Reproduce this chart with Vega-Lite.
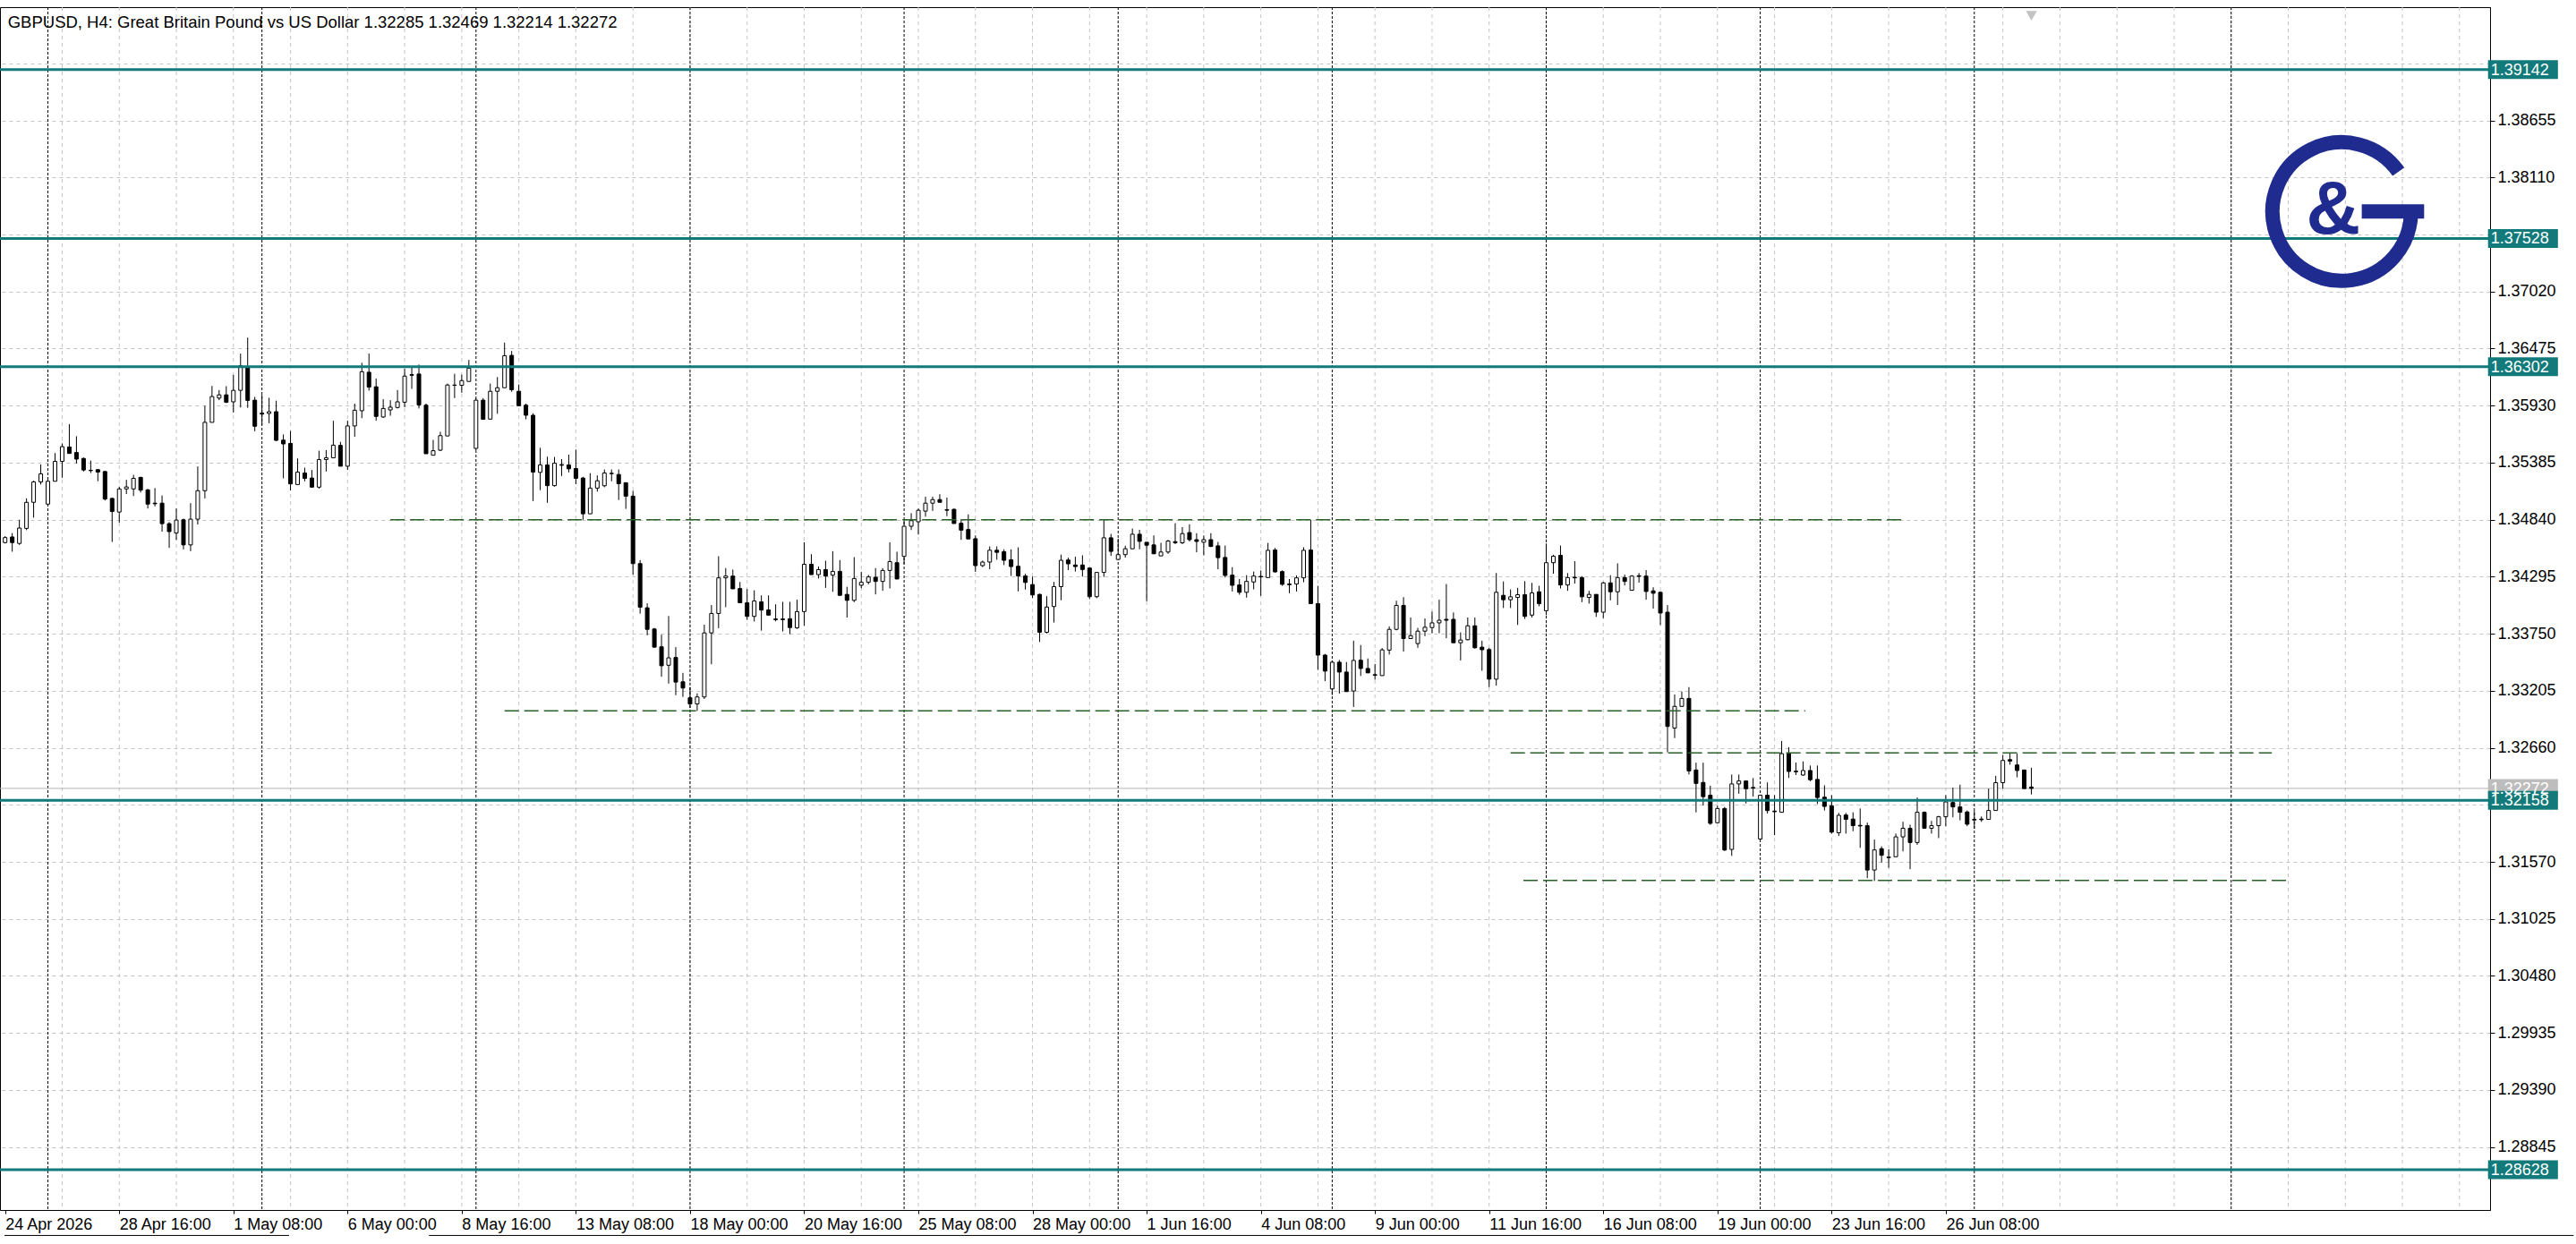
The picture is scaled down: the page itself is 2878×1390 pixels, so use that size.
{
"$schema": "https://vega.github.io/schema/vega-lite/v6.json",
"width": 2782, "height": 1344,
"autosize": "none",
"padding": {"left": 0, "top": 8, "right": 96, "bottom": 38},
"background": "white",
"config": {"view": {"stroke": "#000000", "strokeWidth": 1}, "font": "Liberation Sans"},
"resolve": {"axis": {"x": "independent", "y": "independent"}},
"datasets": {
"k": [
{"i":0,"o":1.34621,"h":1.34683,"l":1.34613,"c":1.34669},
{"i":1,"o":1.34675,"h":1.34712,"l":1.34534,"c":1.34621},
{"i":2,"o":1.34613,"h":1.34839,"l":1.34599,"c":1.34760},
{"i":3,"o":1.34757,"h":1.35043,"l":1.34740,"c":1.35006},
{"i":4,"o":1.35006,"h":1.35213,"l":1.34859,"c":1.35201},
{"i":5,"o":1.35201,"h":1.35368,"l":1.35176,"c":1.35278},
{"i":6,"o":1.34989,"h":1.35221,"l":1.34981,"c":1.35207},
{"i":7,"o":1.35207,"h":1.35476,"l":1.35207,"c":1.35397},
{"i":8,"o":1.35397,"h":1.35569,"l":1.35241,"c":1.35538},
{"i":9,"o":1.35535,"h":1.35753,"l":1.35473,"c":1.35473},
{"i":10,"o":1.35482,"h":1.35637,"l":1.35377,"c":1.35419},
{"i":11,"o":1.35425,"h":1.35434,"l":1.35300,"c":1.35315},
{"i":12,"o":1.35312,"h":1.35405,"l":1.35286,"c":1.35309},
{"i":13,"o":1.35318,"h":1.35320,"l":1.35207,"c":1.35295},
{"i":14,"o":1.35300,"h":1.35306,"l":1.35023,"c":1.35037},
{"i":15,"o":1.35043,"h":1.35051,"l":1.34627,"c":1.34918},
{"i":16,"o":1.34913,"h":1.35156,"l":1.34811,"c":1.35134},
{"i":17,"o":1.35134,"h":1.35221,"l":1.35085,"c":1.35153},
{"i":18,"o":1.35134,"h":1.35269,"l":1.35066,"c":1.35235},
{"i":19,"o":1.35244,"h":1.35250,"l":1.35100,"c":1.35122},
{"i":20,"o":1.35125,"h":1.35134,"l":1.34947,"c":1.34989},
{"i":21,"o":1.34998,"h":1.35142,"l":1.34967,"c":1.34992},
{"i":22,"o":1.34998,"h":1.35071,"l":1.34726,"c":1.34802},
{"i":23,"o":1.34802,"h":1.34817,"l":1.34570,"c":1.34726},
{"i":24,"o":1.34712,"h":1.34947,"l":1.34647,"c":1.34836},
{"i":25,"o":1.34839,"h":1.34850,"l":1.34556,"c":1.34599},
{"i":26,"o":1.34599,"h":1.34998,"l":1.34539,"c":1.34845},
{"i":27,"o":1.34845,"h":1.35349,"l":1.34794,"c":1.35117},
{"i":28,"o":1.35117,"h":1.35929,"l":1.35043,"c":1.35770},
{"i":29,"o":1.35770,"h":1.36118,"l":1.35770,"c":1.36017},
{"i":30,"o":1.36002,"h":1.36079,"l":1.35982,"c":1.36033},
{"i":31,"o":1.36033,"h":1.36116,"l":1.35954,"c":1.35963},
{"i":32,"o":1.35966,"h":1.36223,"l":1.35864,"c":1.36076},
{"i":33,"o":1.36076,"h":1.36427,"l":1.35912,"c":1.36311},
{"i":34,"o":1.36291,"h":1.36580,"l":1.35909,"c":1.35980},
{"i":35,"o":1.35982,"h":1.36014,"l":1.35685,"c":1.35733},
{"i":36,"o":1.35858,"h":1.36033,"l":1.35745,"c":1.35849},
{"i":37,"o":1.35855,"h":1.36005,"l":1.35762,"c":1.35872},
{"i":38,"o":1.35872,"h":1.35977,"l":1.35592,"c":1.35598},
{"i":39,"o":1.35600,"h":1.35654,"l":1.35235,"c":1.35564},
{"i":40,"o":1.35569,"h":1.35688,"l":1.35119,"c":1.35182},
{"i":41,"o":1.35176,"h":1.35425,"l":1.35176,"c":1.35295},
{"i":42,"o":1.35286,"h":1.35337,"l":1.35207,"c":1.35235},
{"i":43,"o":1.35238,"h":1.35315,"l":1.35145,"c":1.35151},
{"i":44,"o":1.35151,"h":1.35499,"l":1.35136,"c":1.35414},
{"i":45,"o":1.35414,"h":1.35505,"l":1.35300,"c":1.35431},
{"i":46,"o":1.35431,"h":1.35785,"l":1.35431,"c":1.35552},
{"i":47,"o":1.35550,"h":1.35584,"l":1.35351,"c":1.35351},
{"i":48,"o":1.35351,"h":1.35787,"l":1.35315,"c":1.35736},
{"i":49,"o":1.35736,"h":1.35949,"l":1.35632,"c":1.35886},
{"i":50,"o":1.35881,"h":1.36339,"l":1.35810,"c":1.36254},
{"i":51,"o":1.36249,"h":1.36427,"l":1.36073,"c":1.36107},
{"i":52,"o":1.36110,"h":1.36189,"l":1.35785,"c":1.35827},
{"i":53,"o":1.35821,"h":1.35991,"l":1.35813,"c":1.35903},
{"i":54,"o":1.35889,"h":1.35982,"l":1.35833,"c":1.35915},
{"i":55,"o":1.35912,"h":1.36079,"l":1.35903,"c":1.35966},
{"i":56,"o":1.35963,"h":1.36283,"l":1.35915,"c":1.36212},
{"i":57,"o":1.36226,"h":1.36291,"l":1.36090,"c":1.36220},
{"i":58,"o":1.36232,"h":1.36322,"l":1.35903,"c":1.35937},
{"i":59,"o":1.35934,"h":1.35949,"l":1.35470,"c":1.35470},
{"i":60,"o":1.35456,"h":1.35603,"l":1.35456,"c":1.35499},
{"i":61,"o":1.35504,"h":1.35680,"l":1.35496,"c":1.35643},
{"i":62,"o":1.35640,"h":1.36141,"l":1.35640,"c":1.36127},
{"i":63,"o":1.36127,"h":1.36234,"l":1.36002,"c":1.36124},
{"i":64,"o":1.36124,"h":1.36226,"l":1.36053,"c":1.36169},
{"i":65,"o":1.36161,"h":1.36367,"l":1.36161,"c":1.36288},
{"i":66,"o":1.35521,"h":1.36000,"l":1.35504,"c":1.35982},
{"i":67,"o":1.35982,"h":1.36002,"l":1.35799,"c":1.35799},
{"i":68,"o":1.35801,"h":1.36141,"l":1.35801,"c":1.36067},
{"i":69,"o":1.36067,"h":1.36203,"l":1.35852,"c":1.36101},
{"i":70,"o":1.36101,"h":1.36532,"l":1.36101,"c":1.36407},
{"i":71,"o":1.36410,"h":1.36452,"l":1.36062,"c":1.36082},
{"i":72,"o":1.36067,"h":1.36132,"l":1.35929,"c":1.35929},
{"i":73,"o":1.35934,"h":1.35949,"l":1.35799,"c":1.35838},
{"i":74,"o":1.35838,"h":1.35858,"l":1.35018,"c":1.35295},
{"i":75,"o":1.35292,"h":1.35527,"l":1.35122,"c":1.35363},
{"i":76,"o":1.35363,"h":1.35442,"l":1.35001,"c":1.35165},
{"i":77,"o":1.35165,"h":1.35439,"l":1.35156,"c":1.35380},
{"i":78,"o":1.35366,"h":1.35419,"l":1.35258,"c":1.35360},
{"i":79,"o":1.35363,"h":1.35462,"l":1.35292,"c":1.35326},
{"i":80,"o":1.35329,"h":1.35510,"l":1.35179,"c":1.35235},
{"i":81,"o":1.35238,"h":1.35249,"l":1.34839,"c":1.34896},
{"i":82,"o":1.34896,"h":1.35284,"l":1.34896,"c":1.35142},
{"i":83,"o":1.35142,"h":1.35263,"l":1.35108,"c":1.35212},
{"i":84,"o":1.35164,"h":1.35320,"l":1.35150,"c":1.35286},
{"i":85,"o":1.35283,"h":1.35320,"l":1.35207,"c":1.35280},
{"i":86,"o":1.35272,"h":1.35320,"l":1.35028,"c":1.35184},
{"i":87,"o":1.35193,"h":1.35198,"l":1.34943,"c":1.35065},
{"i":88,"o":1.35065,"h":1.35116,"l":1.34315,"c":1.34420},
{"i":89,"o":1.34420,"h":1.34454,"l":1.33942,"c":1.34004},
{"i":90,"o":1.33998,"h":1.34041,"l":1.33735,"c":1.33792},
{"i":91,"o":1.33795,"h":1.33806,"l":1.33616,"c":1.33622},
{"i":92,"o":1.33625,"h":1.33741,"l":1.33339,"c":1.33444},
{"i":93,"o":1.33449,"h":1.33919,"l":1.33274,"c":1.33520},
{"i":94,"o":1.33523,"h":1.33622,"l":1.33163,"c":1.33288},
{"i":95,"o":1.33291,"h":1.33376,"l":1.33146,"c":1.33231},
{"i":96,"o":1.33138,"h":1.33240,"l":1.33042,"c":1.33079},
{"i":97,"o":1.33079,"h":1.33180,"l":1.33013,"c":1.33146},
{"i":98,"o":1.33146,"h":1.33837,"l":1.33127,"c":1.33758},
{"i":99,"o":1.33758,"h":1.34024,"l":1.33458,"c":1.33944},
{"i":100,"o":1.33944,"h":1.34491,"l":1.33803,"c":1.34284},
{"i":101,"o":1.34284,"h":1.34377,"l":1.34004,"c":1.34301},
{"i":102,"o":1.34301,"h":1.34363,"l":1.34179,"c":1.34179},
{"i":103,"o":1.34182,"h":1.34245,"l":1.34046,"c":1.34046},
{"i":104,"o":1.34046,"h":1.34177,"l":1.33882,"c":1.33916},
{"i":105,"o":1.33916,"h":1.34165,"l":1.33868,"c":1.34063},
{"i":106,"o":1.34055,"h":1.34117,"l":1.33780,"c":1.33976},
{"i":107,"o":1.33978,"h":1.34117,"l":1.33928,"c":1.33928},
{"i":108,"o":1.33891,"h":1.34032,"l":1.33868,"c":1.33885},
{"i":109,"o":1.33891,"h":1.34055,"l":1.33772,"c":1.33885},
{"i":110,"o":1.33894,"h":1.34055,"l":1.33746,"c":1.33809},
{"i":111,"o":1.33806,"h":1.34075,"l":1.33797,"c":1.33962},
{"i":112,"o":1.33962,"h":1.34624,"l":1.33826,"c":1.34414},
{"i":113,"o":1.34414,"h":1.34511,"l":1.34315,"c":1.34315},
{"i":114,"o":1.34315,"h":1.34392,"l":1.34278,"c":1.34363},
{"i":115,"o":1.34363,"h":1.34448,"l":1.34188,"c":1.34301},
{"i":116,"o":1.34310,"h":1.34539,"l":1.34151,"c":1.34346},
{"i":117,"o":1.34346,"h":1.34454,"l":1.34112,"c":1.34117},
{"i":118,"o":1.34126,"h":1.34199,"l":1.33905,"c":1.34069},
{"i":119,"o":1.34069,"h":1.34482,"l":1.34052,"c":1.34278},
{"i":120,"o":1.34213,"h":1.34341,"l":1.34185,"c":1.34242},
{"i":121,"o":1.34242,"h":1.34312,"l":1.34222,"c":1.34293},
{"i":122,"o":1.34290,"h":1.34377,"l":1.34126,"c":1.34250},
{"i":123,"o":1.34250,"h":1.34377,"l":1.34160,"c":1.34355},
{"i":124,"o":1.34355,"h":1.34624,"l":1.34183,"c":1.34440},
{"i":125,"o":1.34429,"h":1.34534,"l":1.34273,"c":1.34273},
{"i":126,"o":1.34489,"h":1.34845,"l":1.34415,"c":1.34777},
{"i":127,"o":1.34777,"h":1.34902,"l":1.34741,"c":1.34831},
{"i":128,"o":1.34820,"h":1.34947,"l":1.34698,"c":1.34930},
{"i":129,"o":1.34922,"h":1.35060,"l":1.34868,"c":1.34998},
{"i":130,"o":1.34998,"h":1.35060,"l":1.34924,"c":1.35032},
{"i":131,"o":1.35032,"h":1.35083,"l":1.35006,"c":1.35006},
{"i":132,"o":1.34936,"h":1.35052,"l":1.34873,"c":1.34930},
{"i":133,"o":1.34939,"h":1.34947,"l":1.34803,"c":1.34803},
{"i":134,"o":1.34806,"h":1.34845,"l":1.34647,"c":1.34740},
{"i":135,"o":1.34746,"h":1.34890,"l":1.34656,"c":1.34656},
{"i":136,"o":1.34658,"h":1.34690,"l":1.34341,"c":1.34401},
{"i":137,"o":1.34401,"h":1.34449,"l":1.34387,"c":1.34435},
{"i":138,"o":1.34435,"h":1.34585,"l":1.34367,"c":1.34548},
{"i":139,"o":1.34548,"h":1.34585,"l":1.34457,"c":1.34528},
{"i":140,"o":1.34534,"h":1.34557,"l":1.34406,"c":1.34452},
{"i":141,"o":1.34457,"h":1.34557,"l":1.34302,"c":1.34392},
{"i":142,"o":1.34395,"h":1.34576,"l":1.34155,"c":1.34302},
{"i":143,"o":1.34302,"h":1.34322,"l":1.34172,"c":1.34240},
{"i":144,"o":1.34220,"h":1.34296,"l":1.34090,"c":1.34121},
{"i":145,"o":1.34126,"h":1.34132,"l":1.33671,"c":1.33764},
{"i":146,"o":1.33764,"h":1.34109,"l":1.33753,"c":1.34005},
{"i":147,"o":1.34010,"h":1.34245,"l":1.33857,"c":1.34200},
{"i":148,"o":1.34200,"h":1.34506,"l":1.34070,"c":1.34452},
{"i":149,"o":1.34455,"h":1.34477,"l":1.34358,"c":1.34418},
{"i":150,"o":1.34407,"h":1.34486,"l":1.34344,"c":1.34392},
{"i":151,"o":1.34407,"h":1.34500,"l":1.34296,"c":1.34364},
{"i":152,"o":1.34378,"h":1.34378,"l":1.34081,"c":1.34104},
{"i":153,"o":1.34104,"h":1.34336,"l":1.34090,"c":1.34336},
{"i":154,"o":1.34336,"h":1.34845,"l":1.34293,"c":1.34667},
{"i":155,"o":1.34667,"h":1.34704,"l":1.34494,"c":1.34537},
{"i":156,"o":1.34460,"h":1.34658,"l":1.34460,"c":1.34506},
{"i":157,"o":1.34506,"h":1.34591,"l":1.34477,"c":1.34562},
{"i":158,"o":1.34562,"h":1.34755,"l":1.34562,"c":1.34701},
{"i":159,"o":1.34701,"h":1.34743,"l":1.34557,"c":1.34633},
{"i":160,"o":1.34624,"h":1.34624,"l":1.34061,"c":1.34596},
{"i":161,"o":1.34599,"h":1.34690,"l":1.34514,"c":1.34514},
{"i":162,"o":1.34494,"h":1.34619,"l":1.34494,"c":1.34531},
{"i":163,"o":1.34531,"h":1.34647,"l":1.34514,"c":1.34636},
{"i":164,"o":1.34630,"h":1.34806,"l":1.34607,"c":1.34619},
{"i":165,"o":1.34619,"h":1.34769,"l":1.34607,"c":1.34707},
{"i":166,"o":1.34717,"h":1.34796,"l":1.34632,"c":1.34649},
{"i":167,"o":1.34649,"h":1.34711,"l":1.34528,"c":1.34632},
{"i":168,"o":1.34624,"h":1.34689,"l":1.34499,"c":1.34649},
{"i":169,"o":1.34649,"h":1.34711,"l":1.34579,"c":1.34584},
{"i":170,"o":1.34590,"h":1.34627,"l":1.34366,"c":1.34477},
{"i":171,"o":1.34479,"h":1.34593,"l":1.34287,"c":1.34307},
{"i":172,"o":1.34310,"h":1.34386,"l":1.34154,"c":1.34213},
{"i":173,"o":1.34216,"h":1.34273,"l":1.34123,"c":1.34146},
{"i":174,"o":1.34146,"h":1.34310,"l":1.34095,"c":1.34250},
{"i":175,"o":1.34245,"h":1.34344,"l":1.34174,"c":1.34301},
{"i":176,"o":1.34298,"h":1.34355,"l":1.34112,"c":1.34293},
{"i":177,"o":1.34287,"h":1.34618,"l":1.34287,"c":1.34547},
{"i":178,"o":1.34550,"h":1.34570,"l":1.34335,"c":1.34341},
{"i":179,"o":1.34344,"h":1.34355,"l":1.34208,"c":1.34222},
{"i":180,"o":1.34225,"h":1.34273,"l":1.34137,"c":1.34219},
{"i":181,"o":1.34225,"h":1.34307,"l":1.34154,"c":1.34284},
{"i":182,"o":1.34284,"h":1.34576,"l":1.34242,"c":1.34547},
{"i":183,"o":1.34550,"h":1.34839,"l":1.34038,"c":1.34038},
{"i":184,"o":1.34038,"h":1.34208,"l":1.33404,"c":1.33546},
{"i":185,"o":1.33546,"h":1.33557,"l":1.33297,"c":1.33393},
{"i":186,"o":1.33223,"h":1.33495,"l":1.33164,"c":1.33478},
{"i":187,"o":1.33478,"h":1.33500,"l":1.33178,"c":1.33384},
{"i":188,"o":1.33384,"h":1.33480,"l":1.33197,"c":1.33197},
{"i":189,"o":1.33203,"h":1.33684,"l":1.33050,"c":1.33495},
{"i":190,"o":1.33497,"h":1.33642,"l":1.33347,"c":1.33418},
{"i":191,"o":1.33418,"h":1.33514,"l":1.33376,"c":1.33376},
{"i":192,"o":1.33359,"h":1.33461,"l":1.33311,"c":1.33353},
{"i":193,"o":1.33350,"h":1.33613,"l":1.33350,"c":1.33596},
{"i":194,"o":1.33594,"h":1.33820,"l":1.33551,"c":1.33792},
{"i":195,"o":1.33792,"h":1.34066,"l":1.33783,"c":1.34021},
{"i":196,"o":1.34021,"h":1.34100,"l":1.33580,"c":1.33704},
{"i":197,"o":1.33704,"h":1.33905,"l":1.33704,"c":1.33732},
{"i":198,"o":1.33656,"h":1.33806,"l":1.33616,"c":1.33775},
{"i":199,"o":1.33775,"h":1.33896,"l":1.33727,"c":1.33812},
{"i":200,"o":1.33809,"h":1.33962,"l":1.33755,"c":1.33854},
{"i":201,"o":1.33854,"h":1.34075,"l":1.33755,"c":1.33879},
{"i":202,"o":1.33888,"h":1.34225,"l":1.33707,"c":1.33879},
{"i":203,"o":1.33888,"h":1.33953,"l":1.33664,"c":1.33664},
{"i":204,"o":1.33664,"h":1.33763,"l":1.33495,"c":1.33690},
{"i":205,"o":1.33693,"h":1.33905,"l":1.33687,"c":1.33826},
{"i":206,"o":1.33826,"h":1.33905,"l":1.33608,"c":1.33616},
{"i":207,"o":1.33622,"h":1.33684,"l":1.33396,"c":1.33597},
{"i":208,"o":1.33599,"h":1.33616,"l":1.33240,"c":1.33316},
{"i":209,"o":1.33316,"h":1.34330,"l":1.33254,"c":1.34146},
{"i":210,"o":1.34117,"h":1.34250,"l":1.33996,"c":1.34075},
{"i":211,"o":1.34075,"h":1.34174,"l":1.33996,"c":1.34103},
{"i":212,"o":1.34097,"h":1.34188,"l":1.33834,"c":1.34123},
{"i":213,"o":1.34123,"h":1.34253,"l":1.33891,"c":1.33916},
{"i":214,"o":1.33928,"h":1.34236,"l":1.33905,"c":1.34140},
{"i":215,"o":1.34151,"h":1.34208,"l":1.34013,"c":1.34038},
{"i":216,"o":1.33970,"h":1.34613,"l":1.33928,"c":1.34429},
{"i":217,"o":1.34429,"h":1.34505,"l":1.34324,"c":1.34491},
{"i":218,"o":1.34499,"h":1.34593,"l":1.34182,"c":1.34216},
{"i":219,"o":1.34216,"h":1.34330,"l":1.34160,"c":1.34287},
{"i":220,"o":1.34290,"h":1.34443,"l":1.34230,"c":1.34284},
{"i":221,"o":1.34287,"h":1.34301,"l":1.34052,"c":1.34103},
{"i":222,"o":1.34097,"h":1.34160,"l":1.34038,"c":1.34126},
{"i":223,"o":1.34126,"h":1.34126,"l":1.33911,"c":1.33956},
{"i":224,"o":1.33956,"h":1.34245,"l":1.33899,"c":1.34236},
{"i":225,"o":1.34236,"h":1.34310,"l":1.34069,"c":1.34151},
{"i":226,"o":1.34151,"h":1.34423,"l":1.34024,"c":1.34287},
{"i":227,"o":1.34287,"h":1.34315,"l":1.34211,"c":1.34250},
{"i":228,"o":1.34165,"h":1.34310,"l":1.34165,"c":1.34301},
{"i":229,"o":1.34304,"h":1.34330,"l":1.34239,"c":1.34298},
{"i":230,"o":1.34301,"h":1.34358,"l":1.34075,"c":1.34154},
{"i":231,"o":1.34160,"h":1.34194,"l":1.33990,"c":1.34137},
{"i":232,"o":1.34146,"h":1.34154,"l":1.33834,"c":1.33948},
{"i":233,"o":1.33956,"h":1.34024,"l":1.32617,"c":1.32864},
{"i":234,"o":1.32849,"h":1.33169,"l":1.32753,"c":1.33056},
{"i":235,"o":1.33056,"h":1.33198,"l":1.33056,"c":1.33132},
{"i":236,"o":1.33132,"h":1.33240,"l":1.32405,"c":1.32439},
{"i":237,"o":1.32448,"h":1.32518,"l":1.32043,"c":1.32320},
{"i":238,"o":1.32329,"h":1.32518,"l":1.32108,"c":1.32193},
{"i":239,"o":1.32207,"h":1.32298,"l":1.31924,"c":1.31938},
{"i":240,"o":1.31944,"h":1.32108,"l":1.31944,"c":1.32080},
{"i":241,"o":1.32080,"h":1.32094,"l":1.31675,"c":1.31683},
{"i":242,"o":1.31689,"h":1.32405,"l":1.31627,"c":1.32315},
{"i":243,"o":1.32315,"h":1.32405,"l":1.32221,"c":1.32343},
{"i":244,"o":1.32343,"h":1.32343,"l":1.32128,"c":1.32269},
{"i":245,"o":1.32281,"h":1.32371,"l":1.32193,"c":1.32275},
{"i":246,"o":1.31788,"h":1.32207,"l":1.31788,"c":1.32207},
{"i":247,"o":1.32207,"h":1.32329,"l":1.32032,"c":1.32060},
{"i":248,"o":1.32055,"h":1.32208,"l":1.31826,"c":1.32049},
{"i":249,"o":1.32044,"h":1.32726,"l":1.32044,"c":1.32604},
{"i":250,"o":1.32604,"h":1.32666,"l":1.32372,"c":1.32434},
{"i":251,"o":1.32437,"h":1.32519,"l":1.32400,"c":1.32431},
{"i":252,"o":1.32400,"h":1.32530,"l":1.32392,"c":1.32443},
{"i":253,"o":1.32443,"h":1.32491,"l":1.32341,"c":1.32355},
{"i":254,"o":1.32358,"h":1.32491,"l":1.32123,"c":1.32185},
{"i":255,"o":1.32188,"h":1.32301,"l":1.32061,"c":1.32100},
{"i":256,"o":1.32106,"h":1.32208,"l":1.31840,"c":1.31854},
{"i":257,"o":1.31848,"h":1.32038,"l":1.31817,"c":1.32015},
{"i":258,"o":1.32018,"h":1.32038,"l":1.31840,"c":1.31976},
{"i":259,"o":1.31979,"h":1.32044,"l":1.31863,"c":1.31916},
{"i":260,"o":1.31919,"h":1.32080,"l":1.31704,"c":1.31913},
{"i":261,"o":1.31916,"h":1.31945,"l":1.31415,"c":1.31492},
{"i":262,"o":1.31492,"h":1.31783,"l":1.31387,"c":1.31684},
{"i":263,"o":1.31696,"h":1.31718,"l":1.31563,"c":1.31633},
{"i":264,"o":1.31616,"h":1.31690,"l":1.31514,"c":1.31611},
{"i":265,"o":1.31619,"h":1.31840,"l":1.31619,"c":1.31809},
{"i":266,"o":1.31809,"h":1.31953,"l":1.31670,"c":1.31891},
{"i":267,"o":1.31891,"h":1.31925,"l":1.31500,"c":1.31755},
{"i":268,"o":1.31755,"h":1.32185,"l":1.31732,"c":1.32044},
{"i":269,"o":1.32044,"h":1.32052,"l":1.31891,"c":1.31891},
{"i":270,"o":1.31891,"h":1.31962,"l":1.31840,"c":1.31916},
{"i":271,"o":1.31916,"h":1.32010,"l":1.31797,"c":1.32001},
{"i":272,"o":1.32001,"h":1.32208,"l":1.31911,"c":1.32143},
{"i":273,"o":1.32137,"h":1.32279,"l":1.31996,"c":1.32095},
{"i":274,"o":1.32095,"h":1.32307,"l":1.31967,"c":1.32044},
{"i":275,"o":1.32047,"h":1.32061,"l":1.31911,"c":1.31930},
{"i":276,"o":1.31976,"h":1.32058,"l":1.31888,"c":1.31970},
{"i":277,"o":1.31979,"h":1.32004,"l":1.31953,"c":1.31973},
{"i":278,"o":1.31976,"h":1.32270,"l":1.31976,"c":1.32061},
{"i":279,"o":1.32061,"h":1.32392,"l":1.32061,"c":1.32327},
{"i":280,"o":1.32327,"h":1.32590,"l":1.32270,"c":1.32539},
{"i":281,"o":1.32547,"h":1.32612,"l":1.32499,"c":1.32533},
{"i":282,"o":1.32496,"h":1.32604,"l":1.32378,"c":1.32443},
{"i":283,"o":1.32448,"h":1.32448,"l":1.32270,"c":1.32270},
{"i":284,"o":1.32285,"h":1.32469,"l":1.32214,"c":1.32272}
],
"vg": [{"g":8},{"g":16},{"g":24},{"g":32},{"g":40},{"g":48},{"g":56},{"g":64},{"g":72},{"g":80},{"g":88},{"g":96},{"g":104},{"g":112},{"g":120},{"g":128},{"g":136},{"g":144},{"g":152},{"g":160},{"g":168},{"g":176},{"g":184},{"g":192},{"g":200},{"g":208},{"g":216},{"g":224},{"g":232},{"g":240},{"g":248},{"g":256},{"g":264},{"g":272},{"g":280},{"g":288},{"g":296},{"g":304},{"g":312},{"g":320},{"g":328},{"g":336},{"g":344}],
"sep": [{"g":6},{"g":36},{"g":66},{"g":96},{"g":126},{"g":156},{"g":186},{"g":216},{"g":246},{"g":276},{"g":312}],
"lvl": [{"p":1.39142},{"p":1.37528},{"p":1.36302},{"p":1.32158},{"p":1.28628}],
"box": [{"p":1.32272},{"p":1.39142},{"p":1.37528},{"p":1.36302},{"p":1.32158},{"p":1.28628}],
"seg": [{"a":54,"b":266,"p":1.34840},{"a":70,"b":252.3,"p":1.33013},{"a":211,"b":317.7,"p":1.32612},{"a":212.8,"b":320,"p":1.31393}]
},
"layer": [
{"data":{"name":"vg"},"mark":{"type":"rule","stroke":"#c4c4c4","strokeWidth":1,"strokeDash":[4,4]},
 "encoding":{"x":{"field":"g","type":"quantitative","scale":{"domain":[-0.0875,347.66],"nice":false,"zero":false},"axis":null}}},
{"data":{"name":"sep"},"mark":{"type":"rule","stroke":"#000000","strokeWidth":1,"strokeDash":[3,2]},
 "encoding":{"x":{"field":"g","type":"quantitative","scale":{"domain":[-0.0875,347.66],"nice":false,"zero":false},"axis":null}}},
{"data":{"values":[{"p":1.32272}]},"mark":{"type":"rule","stroke":"#b4b4b4","strokeWidth":1},
 "encoding":{"y":{"field":"p","type":"quantitative","scale":{"domain":[1.28286,1.39695],"nice":false,"zero":false},"axis":null}}},
{"data":{"name":"k"},"mark":{"type":"rule","stroke":"#000000","strokeWidth":1},
 "encoding":{"x":{"field":"i","type":"quantitative","scale":{"domain":[-0.0875,347.66],"nice":false,"zero":false},"axis":null},
  "y":{"field":"l","type":"quantitative","scale":{"domain":[1.28286,1.39695],"nice":false,"zero":false},"axis":null},
  "y2":{"field":"h"}}},
{"data":{"name":"k"},"mark":{"type":"bar","width":4,"stroke":"#000000","strokeWidth":1},
 "encoding":{"x":{"field":"i","type":"quantitative","scale":{"domain":[-0.0875,347.66],"nice":false,"zero":false},
   "axis":{"orient":"bottom","values":[0,16,32,48,64,80,96,112,128,144,160,176,192,208,224,240,256,272],
    "labelExpr":"['24 Apr 2026','28 Apr 16:00','1 May 08:00','6 May 00:00','8 May 16:00','13 May 08:00','18 May 00:00','20 May 16:00','25 May 08:00','28 May 00:00','1 Jun 16:00','4 Jun 08:00','9 Jun 00:00','11 Jun 16:00','16 Jun 08:00','19 Jun 00:00','23 Jun 16:00','26 Jun 08:00'][round(datum.value/16)]",
    "labelAlign":"left","labelFont":"Liberation Sans","labelFontSize":18,"labelColor":"#000000","labelPadding":3,
    "tickSize":4,"tickColor":"#000000","domainColor":"#000000","grid":false,"title":null,
    "labelOverlap":false,"labelFlush":false,"labelBound":false}},
  "y":{"field":"o","type":"quantitative","scale":{"domain":[1.28286,1.39695],"nice":false,"zero":false},
   "axis":{"orient":"right","values":[1.28845,1.2939,1.29935,1.3048,1.31025,1.3157,1.32115,1.3266,1.33205,1.3375,1.34295,1.3484,1.35385,1.3593,1.36475,1.3702,1.37565,1.3811,1.38655,1.392],
    "labelExpr":"(abs(datum.value-1.32115)<0.00001 || abs(datum.value-1.37565)<0.00001 || abs(datum.value-1.392)<0.00001) ? '' : format(datum.value,'.5f')",
    "labelFont":"Liberation Sans","labelFontSize":18,"labelColor":"#000000","labelPadding":3,
    "tickSize":5,"tickColor":"#000000","domainColor":"#000000","grid":true,"gridColor":"#c4c4c4","gridDash":[4,4],
    "title":null,"labelOverlap":false,"labelFlush":false,"labelBound":false}},
  "y2":{"field":"c"},
  "fill":{"condition":{"test":"datum.c >= datum.o","value":"#ffffff"},"value":"#000000"}}},
{"data":{"name":"lvl"},"mark":{"type":"rule","stroke":"#127a7a","strokeWidth":3},
 "encoding":{"y":{"field":"p","type":"quantitative","scale":{"domain":[1.28286,1.39695],"nice":false,"zero":false},"axis":null}}},
{"data":{"name":"seg"},"mark":{"type":"rule","stroke":"#2a5f2a","strokeWidth":1.5,"strokeDash":[16,6]},
 "encoding":{"x":{"field":"a","type":"quantitative","scale":{"domain":[-0.0875,347.66],"nice":false,"zero":false},"axis":null},
  "x2":{"field":"b"},
  "y":{"field":"p","type":"quantitative","scale":{"domain":[1.28286,1.39695],"nice":false,"zero":false},"axis":null}}},
{"data":{"name":"box"},"mark":{"type":"bar","height":21},
 "encoding":{"x":{"datum":348.0,"type":"quantitative","scale":{"domain":[-0.0875,347.66],"nice":false,"zero":false},"axis":null},
  "x2":{"datum":357.8},
  "y":{"field":"p","type":"quantitative","scale":{"domain":[1.28286,1.39695],"nice":false,"zero":false},"axis":null},
  "fill":{"condition":{"test":"datum.p == 1.32272","value":"#bdbdbd"},"value":"#127a7a"}}},
{"data":{"name":"box"},"mark":{"type":"text","align":"left","baseline":"middle","dx":3,"dy":1,"font":"Liberation Sans","fontSize":18,"fill":"#ffffff"},
 "encoding":{"x":{"datum":348.0,"type":"quantitative","scale":{"domain":[-0.0875,347.66],"nice":false,"zero":false},"axis":null},
  "y":{"field":"p","type":"quantitative","scale":{"domain":[1.28286,1.39695],"nice":false,"zero":false},"axis":null},
  "text":{"field":"p","type":"quantitative","format":".5f"}}},
{"data":{"values":[{"t":"GBPUSD, H4:  Great Britain Pound vs US Dollar  1.32285 1.32469 1.32214 1.32272"}]},
 "mark":{"type":"text","align":"left","baseline":"middle","dx":3,"font":"Liberation Sans","fontSize":18.5,"fill":"#000000"},
 "encoding":{"x":{"datum":0,"type":"quantitative","scale":{"domain":[-0.0875,347.66],"nice":false,"zero":false},"axis":null},
  "y":{"datum":1.39593,"type":"quantitative","scale":{"domain":[1.28286,1.39695],"nice":false,"zero":false},"axis":null},
  "text":{"field":"t"}}},
{"data":{"values":[{"s":"logo"}]},
 "mark":{"type":"point","shape":"M0.737,-0.516 A0.9,0.9 0 1 0 0.9,0 M0.26,0 L1.07,0","filled":false,"stroke":"#1f2b8f","strokeWidth":16,"size":29584,"opacity":1,"strokeCap":"butt"},
 "encoding":{"x":{"datum":327.5,"type":"quantitative","scale":{"domain":[-0.0875,347.66],"nice":false,"zero":false},"axis":null},
  "y":{"datum":1.37785,"type":"quantitative","scale":{"domain":[1.28286,1.39695],"nice":false,"zero":false},"axis":null}}},
{"data":{"values":[{"t":"&"}]},
 "mark":{"type":"text","align":"center","baseline":"middle","font":"Liberation Sans","fontWeight":"bold","fontSize":84,"fill":"#1f2b8f"},
 "encoding":{"x":{"datum":326.3,"type":"quantitative","scale":{"domain":[-0.0875,347.66],"nice":false,"zero":false},"axis":null},
  "y":{"datum":1.37785,"type":"quantitative","scale":{"domain":[1.28286,1.39695],"nice":false,"zero":false},"axis":null},
  "text":{"field":"t"}}},
{"data":{"values":[{"s":"shift"}]},
 "mark":{"type":"point","shape":"triangle-down","filled":true,"fill":"#a8a8a8","stroke":null,"size":150},
 "encoding":{"x":{"datum":284,"type":"quantitative","scale":{"domain":[-0.0875,347.66],"nice":false,"zero":false},"axis":null},
  "y":{"datum":1.39655,"type":"quantitative","scale":{"domain":[1.28286,1.39695],"nice":false,"zero":false},"axis":null}}},
{"data":{"values":[{"a":-0.0875,"b":39.8},{"a":59.4,"b":360}]},"mark":{"type":"rule","stroke":"#000000","strokeWidth":1},
 "encoding":{"x":{"field":"a","type":"quantitative","scale":{"domain":[-0.0875,347.66],"nice":false,"zero":false},"axis":null},
  "x2":{"field":"b"},
  "y":{"datum":1.28,"type":"quantitative","scale":{"domain":[1.28286,1.39695],"nice":false,"zero":false},"axis":null}}}
]
}
